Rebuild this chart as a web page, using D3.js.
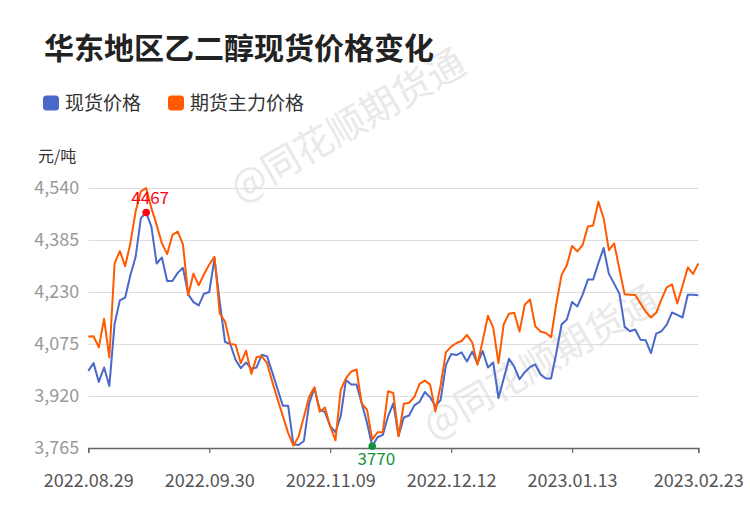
<!DOCTYPE html>
<html><head><meta charset="utf-8">
<script src="https://cdn.jsdelivr.net/npm/d3@7"></script>
<style>
html,body{margin:0;padding:0;background:#fff;}
svg{display:block;font-family:"Noto Sans CJK SC","Noto Sans",sans-serif;}
</style></head>
<body>
<svg id="chart" width="750" height="510"></svg>
<script>
const title = "华东地区乙二醇现货价格变化";
const seriesNames = ["现货价格", "期货主力价格"];
const seriesColors = ["#4a68c9", "#ff5a00"];
const unitLabel = "元/吨";
const watermark = "@同花顺期货通";

const dates = [
 "2022.08.29","2022.08.30","2022.08.31",
 "2022.09.01","2022.09.02","2022.09.05","2022.09.06","2022.09.07","2022.09.08","2022.09.09",
 "2022.09.13","2022.09.14","2022.09.15","2022.09.16","2022.09.19","2022.09.20","2022.09.21","2022.09.22","2022.09.23",
 "2022.09.26","2022.09.27","2022.09.28","2022.09.29","2022.09.30",
 "2022.10.10","2022.10.11","2022.10.12","2022.10.13","2022.10.14","2022.10.17","2022.10.18","2022.10.19","2022.10.20","2022.10.21",
 "2022.10.24","2022.10.25","2022.10.26","2022.10.27","2022.10.28","2022.10.31",
 "2022.11.01","2022.11.02","2022.11.03","2022.11.04","2022.11.07","2022.11.08","2022.11.09","2022.11.10","2022.11.11",
 "2022.11.14","2022.11.15","2022.11.16","2022.11.17","2022.11.18","2022.11.21","2022.11.22","2022.11.23","2022.11.24","2022.11.25",
 "2022.11.28","2022.11.29","2022.11.30",
 "2022.12.01","2022.12.02","2022.12.05","2022.12.06","2022.12.07","2022.12.08","2022.12.09","2022.12.12","2022.12.13","2022.12.14",
 "2022.12.15","2022.12.16","2022.12.19","2022.12.20","2022.12.21","2022.12.22","2022.12.23","2022.12.26","2022.12.27","2022.12.28",
 "2022.12.29","2022.12.30",
 "2023.01.03","2023.01.04","2023.01.05","2023.01.06","2023.01.09","2023.01.10","2023.01.11","2023.01.12","2023.01.13",
 "2023.01.16","2023.01.17","2023.01.18","2023.01.19","2023.01.20","2023.01.30","2023.01.31",
 "2023.02.01","2023.02.02","2023.02.03","2023.02.06","2023.02.07","2023.02.08","2023.02.09","2023.02.10",
 "2023.02.13","2023.02.14","2023.02.15","2023.02.16","2023.02.17","2023.02.20","2023.02.21","2023.02.22","2023.02.23"
];

const spotPrice = [
 3995,4018,3962,4005,3950,4135,4205,4213,4280,4335,
 4450,4467,4425,4315,4333,4263,4263,4287,4302,4223,
 4200,4190,4225,4230,4330,4200,4081,4075,4028,4003,
 4020,4001,4005,4043,4038,3990,3940,3891,3891,3776,
 3774,3786,3898,3944,3880,3872,3830,3812,3860,3968,
 3954,3954,3898,3840,3770,3797,3804,3859,3898,3801,
 3856,3862,3892,3903,3932,3916,3890,3908,4012,4045,
 4042,4050,4023,4052,4017,4054,4005,4020,3914,3972,
 4031,4007,3970,3991,4006,4014,3984,3972,3972,4048,
 4133,4148,4200,4187,4222,4267,4267,4316,4361,4284,
 4255,4225,4126,4113,4118,4088,4086,4048,4106,4113,
 4133,4169,4162,4154,4222,4222,4220
];

const futuresPrice = [
 4097,4098,4065,4150,4035,4315,4352,4307,4375,4470,
 4530,4540,4480,4430,4375,4343,4400,4410,4372,4220,
 4285,4250,4283,4312,4335,4166,4142,4075,4073,4018,
 4055,3986,4036,4038,4018,3962,3910,3860,3810,3772,
 3799,3858,3918,3946,3873,3886,3830,3788,3938,3973,
 3993,3999,3897,3879,3790,3812,3812,3934,3929,3800,
 3897,3900,3917,3956,3966,3954,3874,3952,4050,4067,
 4078,4084,4102,4080,4013,4085,4159,4124,4018,4134,
 4165,4168,4112,4192,4208,4128,4112,4108,4095,4195,
 4281,4310,4367,4351,4370,4425,4428,4499,4450,4355,
 4375,4298,4223,4222,4221,4196,4171,4154,4168,4208,
 4244,4253,4196,4248,4303,4284,4315
];

const yTicks = [3765, 3920, 4075, 4230, 4385, 4540];
const xTickLabels = ["2022.08.29","2022.09.30","2022.11.09","2022.12.12","2023.01.13","2023.02.23"];

const svg = d3.select("#chart");
const plotLeft = 88.3, plotRight = 698.3, plotTop = 188, plotBottom = 448;

// watermarks
[[240, 203], [433, 440]].forEach(([wx, wy]) => {
  svg.append("text").attr("x", wx).attr("y", wy)
    .attr("transform", `rotate(-30,${wx},${wy})`)
    .attr("font-size", 38).attr("fill", "#e9e9e9")
    .text(watermark);
});

const x = d3.scalePoint().domain(dates).range([plotLeft, plotRight]);
const y = d3.scaleLinear().domain([yTicks[0], yTicks[yTicks.length - 1]]).range([plotBottom, plotTop]);

// title
svg.append("text").attr("x", 44).attr("y", 59)
  .attr("font-size", 30).attr("font-weight", "bold").attr("fill", "#222")
  .text(title);

// legend
const legendX = [43, 168];
seriesNames.forEach((n, i) => {
  svg.append("rect").attr("x", legendX[i]).attr("y", 95.5).attr("width", 16).attr("height", 15)
    .attr("rx", 3.5).attr("fill", seriesColors[i]);
  svg.append("text").attr("x", legendX[i] + 22).attr("y", 110)
    .attr("font-size", 19).attr("fill", "#333").text(n);
});

// unit
svg.append("text").attr("x", 38).attr("y", 162).attr("font-size", 16).attr("fill", "#333").text(unitLabel);

// y axis with gridlines
const yAxis = svg.append("g").attr("transform", `translate(${plotLeft},0)`)
  .call(d3.axisLeft(y).tickValues(yTicks).tickFormat(d3.format(",")).tickSize(-(plotRight - plotLeft)).tickPadding(9));
yAxis.select(".domain").remove();
yAxis.selectAll(".tick line").attr("stroke", "#dedede").attr("stroke-width", 1);
yAxis.selectAll(".tick text").attr("font-size", 18).attr("fill", "#999")
  .attr("font-family", "'Noto Sans CJK SC',sans-serif");

// x axis
const xAxis = svg.append("g").attr("transform", `translate(0,${plotBottom})`)
  .call(d3.axisBottom(x).tickValues(xTickLabels).tickSize(5).tickPadding(21));
xAxis.select(".domain").attr("stroke", "#666").attr("stroke-width", 1.5);
xAxis.selectAll(".tick line").attr("stroke", "#666").attr("stroke-width", 1.2);
xAxis.selectAll(".tick text").attr("font-size", 18).attr("fill", "#555")
  .attr("font-family", "'Noto Sans CJK SC',sans-serif");

// lines
const line = d3.line().x((d, i) => x(dates[i])).y(d => y(d));
[spotPrice, futuresPrice].forEach((s, i) => {
  svg.append("path").datum(s).attr("d", line).attr("fill", "none")
    .attr("stroke", seriesColors[i]).attr("stroke-width", 2).attr("stroke-linejoin", "round");
});

// max / min markers (spot)
const maxV = d3.max(spotPrice), minV = d3.min(spotPrice);
const maxI = spotPrice.indexOf(maxV), minI = spotPrice.indexOf(minV);
svg.append("circle").attr("cx", x(dates[maxI])).attr("cy", y(maxV)).attr("r", 3.8).attr("fill", "#ff0018");
svg.append("text").attr("x", x(dates[maxI]) + 4).attr("y", y(maxV) - 8).attr("text-anchor", "middle")
  .attr("font-size", 17).attr("fill", "#ff0018").text(maxV);
svg.append("circle").attr("cx", x(dates[minI])).attr("cy", y(minV)).attr("r", 3.8).attr("fill", "#12913c");
svg.append("text").attr("x", x(dates[minI]) + 4).attr("y", y(minV) + 19).attr("text-anchor", "middle")
  .attr("font-size", 17).attr("fill", "#12913c").text(minV);
</script>
</body></html>
